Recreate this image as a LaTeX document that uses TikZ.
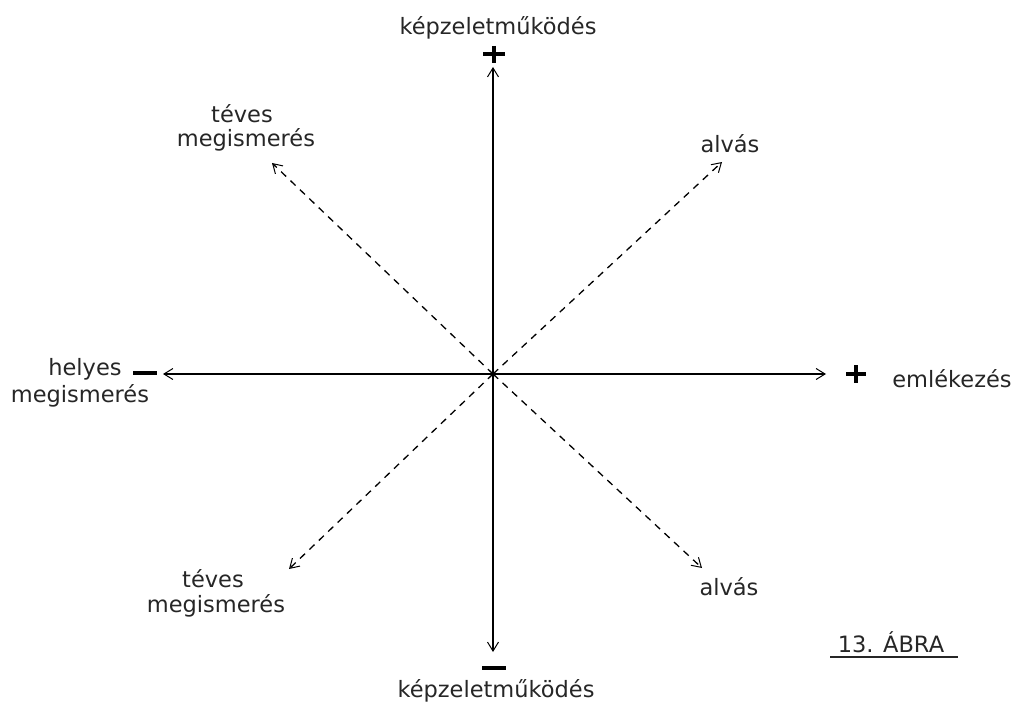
\documentclass[tikz,border=0pt]{standalone}
\usepackage{fontspec}
\setmainfont{DejaVu Sans}
\usetikzlibrary{arrows.meta}
\begin{document}
\begin{tikzpicture}[x=1pt,y=-1pt,
  lbl/.style={font=\fontsize{22.5}{25}\selectfont, inner sep=0pt, anchor=base, text=black!85},
  sgn/.style={line width=3.2pt},
  axis/.style={line width=1.3pt, -{Straight Barb[length=9pt,width=11pt,line width=1pt]}},
  diag/.style={line width=1.3pt, dash pattern=on 7pt off 6pt, -{Straight Barb[length=9pt,width=11pt,line width=1pt]}}]
\useasboundingbox (0,0) rectangle (1015,706);
\coordinate (c) at (493,374);
\coordinate (top) at (493,67);
\coordinate (bot) at (493,652);
\coordinate (lft) at (163,374);
\coordinate (rgt) at (826,374);
\coordinate (ul) at (272,163);
\coordinate (ur) at (722,162);
\coordinate (ll) at (289,569);
\coordinate (lr) at (702,568);
\draw[axis] (c) -- (top);
\draw[axis] (c) -- (bot);
\draw[axis] (c) -- (lft);
\draw[axis] (c) -- (rgt);
\draw[diag] (c) -- (ul);
\draw[diag] (c) -- (ur);
\draw[diag] (c) -- (ll);
\draw[diag] (c) -- (lr);
% top label and plus
\node[lbl] (ttop) at (498,35) {képzeletműködés};
\coordinate (pt1) at (483,54); \coordinate (pt2) at (505,54);
\coordinate (pt3) at (494,46); \coordinate (pt4) at (494,63);
\draw[sgn] (pt1) -- (pt2); \draw[sgn] (pt3) -- (pt4);
% bottom minus and label
\coordinate (mb1) at (482,668); \coordinate (mb2) at (506,668);
\draw[sgn] (mb1) -- (mb2);
\node[lbl] (tbot) at (496,697) {képzeletműködés};
% left
\node[lbl] (tlft1) at (85,375) {helyes};
\node[lbl] (tlft2) at (80,402) {megismerés};
\coordinate (ml1) at (133,373); \coordinate (ml2) at (157,373);
\draw[sgn] (ml1) -- (ml2);
% right
\coordinate (pr1) at (846,374); \coordinate (pr2) at (866,374);
\coordinate (pr3) at (856,365); \coordinate (pr4) at (856,383);
\draw[sgn] (pr1) -- (pr2); \draw[sgn] (pr3) -- (pr4);
\node[lbl] (trgt) at (952,387) {emlékezés};
% diagonals
\node[lbl] (tul1) at (242,123) {téves};
\node[lbl] (tul2) at (246,147) {megismerés};
\node[lbl] (tur) at (730,153) {alvás};
\node[lbl] (tll1) at (213,587) {téves};
\node[lbl] (tll2) at (216,612) {megismerés};
\node[lbl] (tlr) at (729,595) {alvás};
% figure caption
\node[lbl] (abra) at (891,652) {13. ÁBRA};
\coordinate (u1) at (830,657); \coordinate (u2) at (958,657);
\draw[line width=1.5pt, black!85] (u1) -- (u2);
\end{tikzpicture}
\end{document}
